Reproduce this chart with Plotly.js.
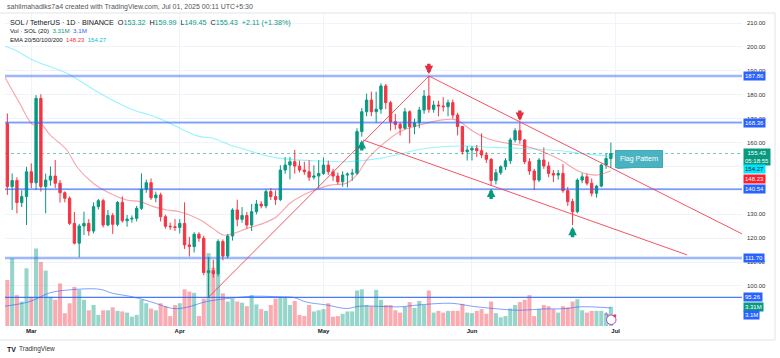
<!DOCTYPE html>
<html><head><meta charset="utf-8">
<script src="https://cdn.plot.ly/plotly-3.0.1.min.js"></script>
<style>html,body{margin:0;padding:0;background:#fff;}#chart{width:780px;height:358px;}</style>
</head><body><div id="chart"></div>
<script>
// ---------- DATA ----------
const firstDay = '2025-02-24';
// Feb 24..28 | Mar 1..31 | Apr 1..30 | May 1..31 | Jun 1..30
const opens = [
168.0,141.6,144.1,134.9,137.4,
147.8,143.2,178.5,141.6,144.3,146.0,143.0,139.0,136.7,126.2,117.9,125.1,126.2,123.0,133.2,135.7,125.5,129.5,125.8,135.0,127.3,128.0,128.3,132.5,140.5,143.2,136.9,138.1,129.0,125.0,124.8,
124.5,126.2,117.2,116.5,121.7,120.0,105.6,106.4,105.1,118.6,112.5,120.9,131.8,127.9,129.5,125.5,131.1,134.3,133.5,139.5,137.4,136.2,148.5,150.6,152.0,150.2,148.5,147.8,145.5,146.0,
147.1,150.6,147.8,146.0,143.6,146.4,146.8,147.2,164.6,172.9,177.8,172.9,174.0,183.7,176.7,168.7,167.6,166.0,172.9,166.7,168.3,173.6,179.5,173.9,175.7,175.3,175.0,176.7,171.5,166.7,156.2,
156.9,157.6,156.6,154.8,153.0,144.1,147.4,149.9,152.4,161.1,165.0,161.1,152.0,148.1,144.3,152.7,150.2,147.1,146.4,147.1,139.9,135.3,131.1,144.3,145.7,143.0,138.8,141.8,150.6,153.32];
const highs = [
172.2,147.1,145.5,140.0,149.9,
151.3,179.9,180.2,147.0,150.0,152.7,144.3,139.6,137.5,131.0,126.0,131.1,128.0,135.0,136.4,136.5,131.8,130.5,135.5,137.5,129.7,129.5,133.5,147.1,144.5,145.0,139.5,139.0,129.8,126.5,128.0,
128.0,135.0,120.6,122.5,122.5,121.0,112.0,111.0,119.5,119.5,121.8,132.5,136.1,133.0,131.0,134.3,136.0,135.5,140.5,141.0,140.0,150.5,154.0,154.0,156.9,152.5,152.0,152.7,150.5,152.7,
153.8,152.5,149.0,147.5,148.0,147.5,149.0,166.0,174.5,180.5,181.3,181.3,184.8,184.5,177.5,172.0,168.5,174.5,173.5,170.0,175.0,182.0,187.86,177.5,177.5,179.0,178.0,178.0,172.5,167.0,158.5,
158.5,159.0,163.9,156.0,153.5,149.0,150.5,153.5,162.0,166.0,168.4,161.5,153.5,149.0,153.5,158.0,152.0,148.5,148.5,151.0,141.5,136.5,145.0,147.2,147.0,145.0,142.3,151.2,155.5,159.99];
const lows = [
138.1,131.8,130.4,133.0,125.5,
141.0,140.2,139.5,130.4,142.0,141.0,134.9,135.0,125.5,117.4,112.0,121.3,121.0,122.0,132.0,124.5,125.0,121.8,125.0,126.5,124.8,126.5,127.0,131.8,139.0,136.0,135.0,127.0,124.0,123.5,123.0,
122.0,115.5,112.3,114.0,118.5,104.5,95.3,103.5,104.0,110.7,111.5,119.0,125.0,126.5,124.0,123.0,130.0,132.5,132.5,136.0,133.9,135.5,147.0,144.6,147.0,147.5,146.5,144.0,144.5,140.9,
146.5,146.5,144.0,142.5,141.5,141.3,144.0,146.5,162.5,171.0,171.0,168.3,172.0,174.0,165.0,165.5,163.0,165.5,159.7,163.5,166.0,172.0,172.5,172.5,171.0,173.0,171.0,170.0,163.0,155.0,152.5,
152.5,154.0,153.5,151.5,141.8,142.5,146.5,148.5,151.0,160.0,159.5,151.0,146.5,140.2,143.5,149.0,145.5,143.5,144.5,139.0,133.5,125.5,130.4,143.0,142.0,137.5,137.0,141.3,149.0,149.45];
const closes = [
141.6,144.1,134.9,137.4,147.8,
143.2,178.5,141.6,144.3,146.0,143.0,139.0,136.7,126.2,117.9,125.1,126.2,123.0,133.2,135.7,125.5,129.5,125.8,135.0,127.3,128.0,128.3,132.5,140.5,143.2,136.9,138.1,129.0,125.0,124.8,124.5,
126.2,117.2,116.5,121.7,120.0,105.6,106.4,105.1,118.6,112.5,120.9,131.8,127.9,129.5,125.5,131.1,134.3,133.5,139.5,137.4,136.2,148.5,150.6,152.0,150.2,148.5,147.8,145.5,146.0,147.1,
150.6,147.8,146.0,143.6,146.4,146.8,147.2,164.6,172.9,177.8,172.9,174.0,183.7,176.7,168.7,167.6,166.0,172.9,166.7,168.3,173.6,179.5,173.9,175.7,175.3,175.0,176.7,171.5,166.7,156.2,156.9,
157.6,156.6,154.8,153.0,144.1,147.4,149.9,152.4,161.1,165.0,161.1,152.0,148.1,144.3,152.7,150.2,147.1,146.4,147.1,139.9,135.3,131.1,144.3,145.7,143.0,138.8,141.8,150.6,153.32,155.43];
// volume, millions of SOL
const volumes = [
7.9,11.6,5.3,4.2,9.9,
5.0,13.3,11.0,9.5,5.0,4.5,7.3,2.2,3.9,6.7,6.2,4.5,2.7,3.6,1.9,2.7,2.7,3.2,2.6,2.5,2.3,1.6,1.9,4.5,3.9,3.0,2.7,3.9,3.4,1.7,3.6,
3.9,6.3,5.9,5.7,1.7,4.7,12.5,10.0,9.0,5.6,4.2,4.7,4.2,4.0,3.4,5.3,3.7,2.9,2.6,3.6,4.7,5.0,4.9,3.6,4.3,1.9,1.7,3.6,2.5,2.7,
2.9,3.9,1.6,1.7,2.1,2.5,2.5,6.1,6.3,3.6,3.4,6.2,4.5,3.6,3.6,2.7,2.3,3.3,4.1,3.1,4.3,3.6,6.1,2.3,2.6,2.3,2.6,2.6,2.6,3.8,2.3,
2.2,2.6,2.9,2.1,4.2,2.2,1.5,1.7,3.0,3.6,4.1,4.5,5.3,1.7,2.9,3.6,3.4,2.9,2.3,3.4,3.2,4.2,4.6,2.7,2.3,2.6,2.6,2.6,2.2,3.31];

// EMA 20 (red)
const ema20Dates = ['2025-02-23 12:00','2025-02-26 14:00','2025-03-01 10:00','2025-03-02 20:00','2025-03-04 22:00','2025-03-08 10:00','2025-03-10 12:00','2025-03-13 22:00','2025-03-17 10:00','2025-03-20 22:00','2025-03-23 17:00','2025-03-26 12:00','2025-03-29 07:00','2025-04-01 00:00','2025-04-05 05:00','2025-04-07 22:00','2025-04-10 02:00','2025-04-12 05:00','2025-04-15 00:00','2025-04-18 10:00','2025-04-21 05:00','2025-04-24 00:00','2025-04-26 19:00','2025-04-29 14:00','2025-05-02 10:00','2025-05-05 19:00','2025-05-07 22:00','2025-05-10 00:00','2025-05-12 19:00','2025-05-17 00:00','2025-05-21 05:00','2025-05-25 10:00','2025-05-28 05:00','2025-05-29 12:00','2025-06-01 07:00','2025-06-04 02:00','2025-06-08 07:00','2025-06-11 00:00','2025-06-13 19:00','2025-06-16 14:00','2025-06-19 10:00','2025-06-23 14:00','2025-06-27 00:00','2025-06-28 10:00','2025-06-30 00:00'];
const ema20Vals = [187.3,176.4,167.4,168.1,163.2,156.9,149.9,143.0,138.8,136.0,135.3,133.2,131.8,131.1,127.7,124.1,121.3,122.0,124.1,126.2,129.0,134.6,138.1,140.4,142.2,143.0,146.4,152.7,158.3,164.6,167.4,169.4,169.7,168.7,164.6,161.8,159.7,159.0,157.6,155.5,152.8,147.8,146.4,147.1,148.23];
// EMA (cyan)
const emaCyanDates = ['2025-02-23 12:00','2025-02-25 14:00','2025-03-01 10:00','2025-03-08 10:00','2025-03-15 07:00','2025-03-22 07:00','2025-03-25 19:00','2025-03-29 07:00','2025-04-01 17:00','2025-04-05 05:00','2025-04-07 22:00','2025-04-11 12:00','2025-04-15 00:00','2025-04-18 10:00','2025-04-21 22:00','2025-04-28 22:00','2025-05-05 19:00','2025-05-12 19:00','2025-05-22 12:00','2025-05-29 12:00','2025-06-05 12:00','2025-06-11 00:00','2025-06-19 10:00','2025-06-23 14:00','2025-06-30 00:00'];
const emaCyanVals = [200.3,198.7,194.5,189.0,180.6,173.6,171.5,168.7,165.3,162.5,161.8,159.0,156.9,154.8,153.4,152.4,152.0,153.4,157.6,158.6,158.0,157.6,156.6,155.5,154.27];
// Volume SMA 20 (blue)
const volMaDates = ['2025-02-23 12:00','2025-02-28 17:00','2025-03-04 22:00','2025-03-09 00:00','2025-03-15 07:00','2025-03-18 00:00','2025-03-21 14:00','2025-03-25 19:00','2025-03-30 14:00','2025-04-02 10:00','2025-04-06 14:00','2025-04-10 19:00','2025-04-16 07:00','2025-04-21 22:00','2025-04-24 17:00','2025-04-27 12:00','2025-05-01 17:00','2025-05-05 19:00','2025-05-08 14:00','2025-05-17 00:00','2025-05-20 17:00','2025-05-27 17:00','2025-05-31 22:00','2025-06-05 10:00','2025-06-11 00:00','2025-06-15 05:00','2025-06-20 19:00','2025-06-23 14:00','2025-06-30 00:00'];
const volMaVals = [3.4,4.2,5.7,6.2,6.3,5.6,5.1,4.2,3.0,3.2,4.2,4.7,5.1,5.0,4.9,4.1,3.6,3.0,3.4,3.3,3.6,3.9,3.4,3.0,2.7,2.9,3.0,3.3,3.1];

// drawn levels and trendlines
const levelsHalo = [187.86, 168.36, 111.70];
const levelsSolid = [140.54, 95.26];
const trendLines = [
  ['2025-04-07', 95.3, '2025-05-23', 187.86],
  ['2025-05-23', 187.86, '2025-07-27 09:00', 121.8],
  ['2025-05-09 06:00', 161.1, '2025-07-15 22:00', 113.0]
];
const upArrows = [['2025-05-09', 161.1], ['2025-06-05', 140.8], ['2025-06-22', 124.8]];
const downArrows = [['2025-05-23', 188.6], ['2025-06-11', 169.0]];
const lastPrice = 155.43, lastVol = 3.31, lastVolMa = 3.1, lastEma20 = 148.23, lastEmaCyan = 154.27;

const monthTicks = ['2025-03-01','2025-04-01','2025-05-01','2025-06-01','2025-07-01'];
const monthLabels = ['Mar','Apr','May','Jun','Jul'];
const priceTicks = [100,110,120,130,140,150,160,170,180,190,200,210];
const hiddenPriceLabels = [140,150]; // covered by the value tags in the reference

// ---------- BUILD ----------
function dayList(start, n){
  const out=[]; const t0=Date.parse(start+'T00:00:00Z');
  for(let i=0;i<n;i++){ out.push(new Date(t0+i*86400000).toISOString().slice(0,10)); }
  return out;
}
const dates = dayList(firstDay, closes.length);
const UP='#089981', DN='#f23645';
const volColors = closes.map((c,i)=> c>=opens[i] ? 'rgba(8,153,129,0.42)' : 'rgba(242,54,69,0.42)');
const FONT = '"Liberation Sans", Arial, sans-serif';

const traces = [
  {type:'bar', x:dates, y:volumes, xaxis:'x', yaxis:'y', marker:{color:volColors, line:{width:0}}, hoverinfo:'skip'},
  {type:'scatter', mode:'lines', x:volMaDates, y:volMaVals, xaxis:'x', yaxis:'y', line:{color:'rgba(41,98,255,0.6)', width:1, shape:'spline'}, hoverinfo:'skip'},
  {type:'scatter', mode:'lines', x:emaCyanDates, y:emaCyanVals, xaxis:'x', yaxis:'y2', line:{color:'rgba(0,225,245,0.4)', width:1.1, shape:'spline'}, hoverinfo:'skip'},
  {type:'scatter', mode:'lines', x:ema20Dates, y:ema20Vals, xaxis:'x', yaxis:'y2', line:{color:'rgba(242,54,69,0.45)', width:1.1, shape:'spline'}, hoverinfo:'skip'},
  {type:'candlestick', x:dates, open:opens, high:highs, low:lows, close:closes, xaxis:'x', yaxis:'y2',
   increasing:{line:{color:UP, width:1}, fillcolor:UP}, decreasing:{line:{color:DN, width:1}, fillcolor:DN},
   whiskerwidth:0, hoverinfo:'skip'}
];

const shapes = [];
const fx = v => (v-5)/737, fy = v => (326-v)/313;
// frame
shapes.push({type:'line', xref:'paper', yref:'paper', x0:fx(0), x1:fx(775), y0:fy(13), y1:fy(13), line:{color:'#e0e3eb', width:1}});
shapes.push({type:'line', xref:'paper', yref:'paper', x0:fx(775), x1:fx(775), y0:fy(13), y1:fy(340), line:{color:'#e0e3eb', width:1}});
shapes.push({type:'line', xref:'paper', yref:'paper', x0:fx(0), x1:fx(775), y0:fy(340), y1:fy(340), line:{color:'#e0e3eb', width:1}});
// current price dotted line
shapes.push({type:'line', xref:'paper', yref:'y2', x0:0, x1:1, y0:lastPrice, y1:lastPrice, line:{color:'rgba(8,153,129,0.55)', width:1, dash:'dot'}, layer:'below'});
levelsHalo.forEach(v=>{
  shapes.push({type:'line', xref:'paper', yref:'y2', x0:0, x1:1, y0:v, y1:v, line:{color:'rgba(41,98,255,0.25)', width:3}});
  shapes.push({type:'line', xref:'paper', yref:'y2', x0:0, x1:1, y0:v, y1:v, line:{color:'rgba(41,98,255,0.55)', width:1}});
});
levelsSolid.forEach(v=>{
  shapes.push({type:'line', xref:'paper', yref:'y2', x0:0, x1:1, y0:v, y1:v, line:{color:'rgba(41,98,255,0.85)', width:1.2}});
});
trendLines.forEach(t=>{
  shapes.push({type:'line', xref:'x', yref:'y2', x0:t[0], y0:t[1], x1:t[2], y1:t[3], line:{color:'rgba(242,54,69,0.85)', width:1}});
});
// Flag pattern callout tail
shapes.push({type:'path', xref:'paper', yref:'paper', path:`M ${fx(641)} ${fy(159.5)} L ${fx(649)} ${fy(167)} L ${fx(615)} ${fy(169.3)} Z`, fillcolor:'#4ab3c2', line:{width:0}});
// lightning badge
shapes.push({type:'circle', xref:'paper', yref:'paper', x0:fx(606.5), x1:fx(616), y0:fy(324.5), y1:fy(315), fillcolor:'#fff', line:{color:'#a24dc4', width:1}});
shapes.push({type:'circle', xref:'paper', yref:'paper', x0:fx(613.3), x1:fx(616.3), y0:fy(317.3), y1:fy(314.3), fillcolor:'#f23645', line:{width:0}});

const ann = [];
// block arrows
upArrows.forEach(a=>ann.push({x:a[0], y:a[1], xref:'x', yref:'y2', text:'', showarrow:true, ax:0, ay:12, arrowhead:2, arrowsize:0.5, arrowwidth:3.4, arrowcolor:UP, standoff:0}));
downArrows.forEach(a=>ann.push({x:a[0], y:a[1], xref:'x', yref:'y2', text:'', showarrow:true, ax:0, ay:-12, arrowhead:2, arrowsize:0.5, arrowwidth:3.4, arrowcolor:'#e0303f', standoff:0}));
// flag label
ann.push({xref:'paper', yref:'paper', x:fx(663), y:fy(159), text:'Flag Pattern', showarrow:false, bgcolor:'#4ab3c2', bordercolor:'#43aab9', borderwidth:1, borderpad:4, font:{family:FONT, size:7, color:'#fff'}});
ann.push({xref:'paper', yref:'paper', x:fx(611.2), y:fy(319.8), text:'ϟ', showarrow:false, font:{family:FONT, size:7, color:'#a24dc4'}});
// header
const T='#089981', SP='&nbsp;&nbsp;';
const hdr = (p, txt, size, col) => ann.push({xref:'paper', yref:'paper', x:fx(p[0]), y:fy(p[1]), xanchor:'left', yanchor:'middle', text:txt, showarrow:false, font:{family:FONT, size:size, color:col||'#131722'}});
hdr([5,7], 'sahilmahadiks7a4 created with TradingView.com, Jul 01, 2025 00:11 UTC+5:30', 7, '#555');
hdr([8,22], `SOL / TetherUS · 1D · BINANCE${SP}O<span style="color:${T}">153.32</span>${SP}H<span style="color:${T}">159.99</span>${SP}L<span style="color:${T}">149.45</span>${SP}C<span style="color:${T}">155.43</span>${SP}<span style="color:${T}">+2.11 (+1.38%)</span>`, 7.2);
hdr([8,31], `Vol · SOL (20)${SP}<span style="color:${T}">3.31M</span>${SP}<span style="color:#2962ff">3.1M</span>`, 6.2);
hdr([8,40], `EMA 20/50/100/200${SP}<span style="color:#f23645">148.23</span>${SP}<span style="color:#00bcd4">154.27</span>`, 6);
// logo
ann.push({xref:'paper', yref:'paper', x:fx(5), y:fy(349), xanchor:'left', yanchor:'middle', text:'<b>TV</b>', showarrow:false, font:{family:FONT, size:7, color:'#131722'}});
ann.push({xref:'paper', yref:'paper', x:fx(17), y:fy(349), xanchor:'left', yanchor:'middle', text:'TradingView', showarrow:false, font:{family:FONT, size:6.5, color:'#333'}});
// price scale tags
const tag = (yref, v, txt, bg, fg, shift) => ann.push({xref:'paper', yref:yref, x:1, y:v, xanchor:'left', yanchor:'middle', xshift:1, yshift:shift||0, text:txt, showarrow:false, bgcolor:bg, borderpad:1, font:{family:FONT, size:6, color:fg}});
levelsHalo.concat(levelsSolid).forEach(v=>tag('y2', v, v.toFixed(2), '#2962ff', '#fff'));
tag('y2', lastPrice, lastPrice.toFixed(2)+'<br>05:18:55', UP, '#fff', -3);
tag('y2', lastEmaCyan, lastEmaCyan.toFixed(2), '#00e5ff', '#131722', -13);
tag('y2', lastEma20, lastEma20.toFixed(2), '#ff1e2d', '#fff', -8);
tag('y', lastVol, lastVol.toFixed(2)+'M', UP, '#fff', 0);
tag('y', lastVolMa, lastVolMa.toFixed(1)+'M', '#2962ff', '#fff', -7);

const layout = {
  width:780, height:358, margin:{l:5, r:38, t:13, b:32, pad:0},
  paper_bgcolor:'#fff', plot_bgcolor:'#fff', showlegend:false,
  font:{family:FONT, size:6, color:'#131722'},
  xaxis:{type:'date', range:['2025-02-23 12:15','2025-07-27 09:00'], tickvals:monthTicks, ticktext:monthLabels,
    showgrid:true, gridcolor:'#f0f3fa', zeroline:false, showline:false, ticks:'',
    tickfont:{family:FONT, size:6, color:'#131722', weight:'bold'}, rangeslider:{visible:false}, fixedrange:true},
  yaxis:{range:[0,53.7], visible:false, fixedrange:true},
  yaxis2:{overlaying:'y', side:'right', anchor:'x', range:[83.26,214.22], tickvals:priceTicks,
    ticktext:priceTicks.map(v=> hiddenPriceLabels.includes(v) ? '' : v.toFixed(2)),
    showgrid:true, gridcolor:'#f0f3fa', zeroline:false, showline:false, ticks:'', tickfont:{family:FONT, size:6, color:'#333'}, ticklabelstandoff:4, fixedrange:true},
  bargap:0.15, boxgap:0.3,
  shapes:shapes, annotations:ann
};
Plotly.newPlot('chart', traces, layout, {displayModeBar:false, staticPlot:true});
</script></body></html>
